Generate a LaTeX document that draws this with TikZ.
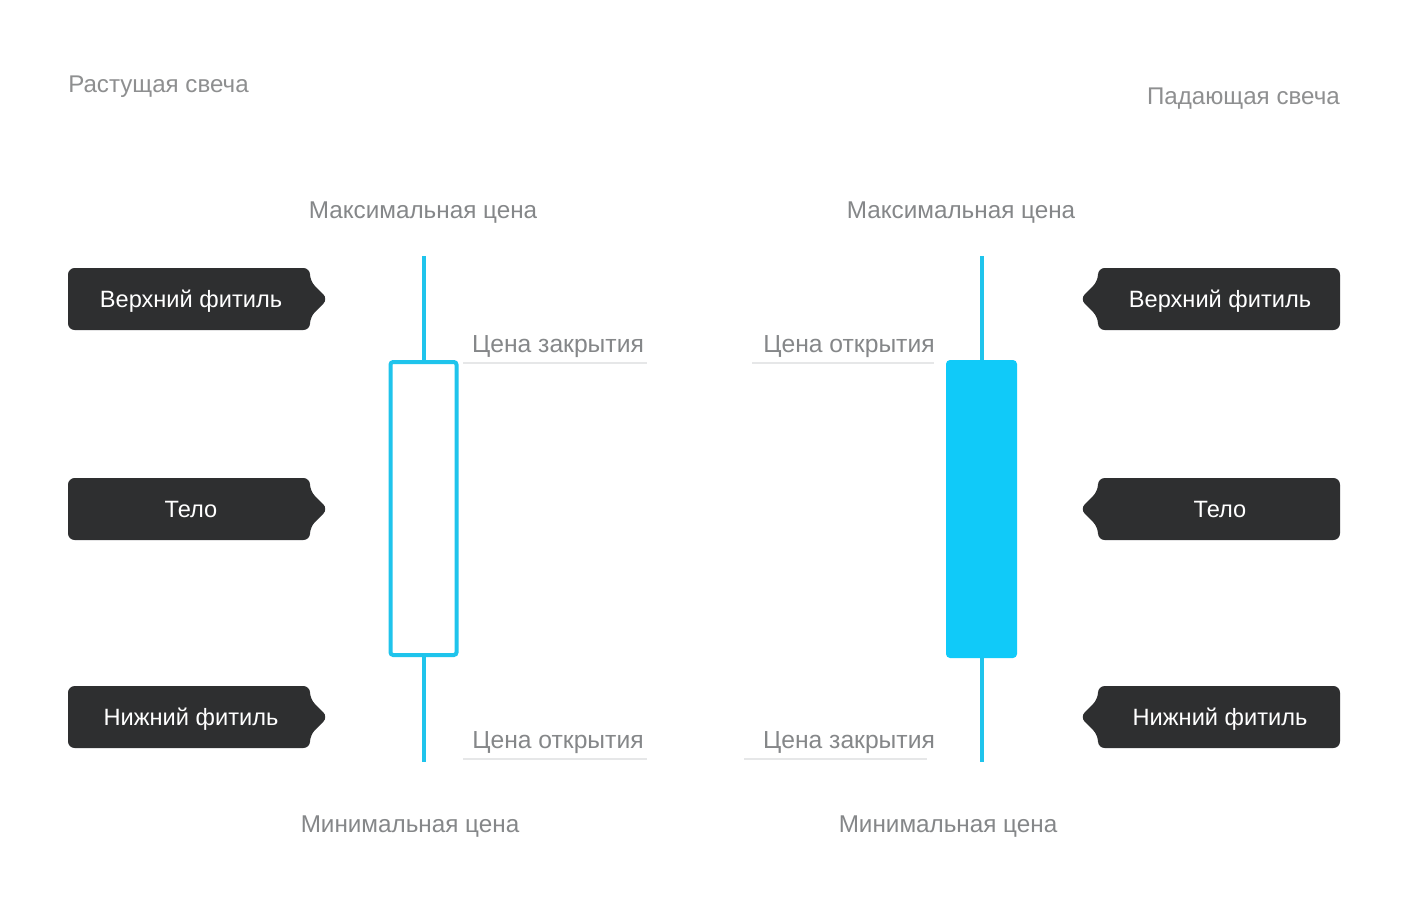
\documentclass[tikz,border=0pt]{standalone}
\usepackage{fontspec}
\setmainfont{Liberation Sans}
\definecolor{boxdark}{HTML}{2E2F30}
\definecolor{candleline}{HTML}{1FC4EC}
\definecolor{candlefill}{HTML}{10CAF9}
\definecolor{labgray}{HTML}{858789}
\definecolor{titlegray}{HTML}{8E8F90}
\definecolor{rulegray}{HTML}{E6E7E8}
\begin{document}
\begin{tikzpicture}[x=0.75pt,y=-0.75pt,
  lab/.style={text=labgray,font=\fontsize{18.2pt}{20pt}\selectfont,inner sep=0pt},
  plab/.style={text=labgray,font=\fontsize{18.5pt}{20pt}\selectfont,inner sep=0pt},
  ttl/.style={text=titlegray,font=\fontsize{18.1pt}{20pt}\selectfont,inner sep=0pt},
  boxtxt/.style={text=white,font=\fontsize{17.7pt}{19pt}\selectfont,inner sep=0pt},
  darkbox/.style={fill=boxdark,rounded corners=5pt},
  pricerule/.style={draw=rulegray,line width=1.5pt},
  wick/.style={draw=candleline,line width=3pt},
]
\useasboundingbox (0,0) rectangle (1408,900);
\fill[white] (0,0) rectangle (1408,900);

% titles
\node[ttl,anchor=base west] (t1) at (68,92) {Растущая свеча};
\node[ttl,anchor=base east] (t2) at (1340,104) {Падающая свеча};

% max/min labels
\node[lab,anchor=base] (max1) at (423,218) {Максимальная цена};
\node[lab,anchor=base] (max2) at (961,218) {Максимальная цена};
\node[lab,anchor=base] (min1) at (410,832) {Минимальная цена};
\node[lab,anchor=base] (min2) at (948,832) {Минимальная цена};

% left boxes
\foreach \yc/\txt/\nm in {299/Верхний фитиль/lb1,509/Тело/lb2,717/Нижний фитиль/lb3}{
  \fill[darkbox] (68,\yc-31) -- (310,\yc-31) -- (310,\yc-18) -- (328,\yc) -- (310,\yc+18) -- (310,\yc+31) -- (68,\yc+31) -- cycle;
  \node[boxtxt,anchor=base] (\nm) at (191,\yc+8) {\txt};
}
% right boxes
\foreach \yc/\txt/\nm in {299/Верхний фитиль/rb1,509/Тело/rb2,717/Нижний фитиль/rb3}{
  \fill[darkbox] (1340,\yc-31) -- (1098,\yc-31) -- (1098,\yc-18) -- (1080,\yc) -- (1098,\yc+18) -- (1098,\yc+31) -- (1340,\yc+31) -- cycle;
  \node[boxtxt,anchor=base] (\nm) at (1220,\yc+8) {\txt};
}

% left candle (rising, hollow)
\coordinate (lwt) at (424,256);
\coordinate (lwb) at (424,762);
\draw[wick] (lwt) -- (424,362);
\draw[wick] (424,655) -- (lwb);
\draw[draw=candleline,line width=3pt,rounded corners=2pt] (390.5,362) rectangle (456.5,655);

% right candle (falling, filled)
\coordinate (rwt) at (982,256);
\coordinate (rwb) at (982,762);
\draw[wick] (rwt) -- (rwb);
\fill[candlefill,rounded corners=3pt] (946,360) rectangle (1017,658);

% price labels with rules
\node[plab,anchor=base] (pc1) at (558,352) {Цена закрытия};
\draw[pricerule] (463,363) -- (647,363);
\node[plab,anchor=base] (po1) at (558,748) {Цена открытия};
\draw[pricerule] (463,759) -- (647,759);
\node[plab,anchor=base] (po2) at (849,352) {Цена открытия};
\draw[pricerule] (752,363) -- (934,363);
\node[plab,anchor=base] (pc2) at (849,748) {Цена закрытия};
\draw[pricerule] (744,759) -- (927,759);
\end{tikzpicture}
\end{document}
